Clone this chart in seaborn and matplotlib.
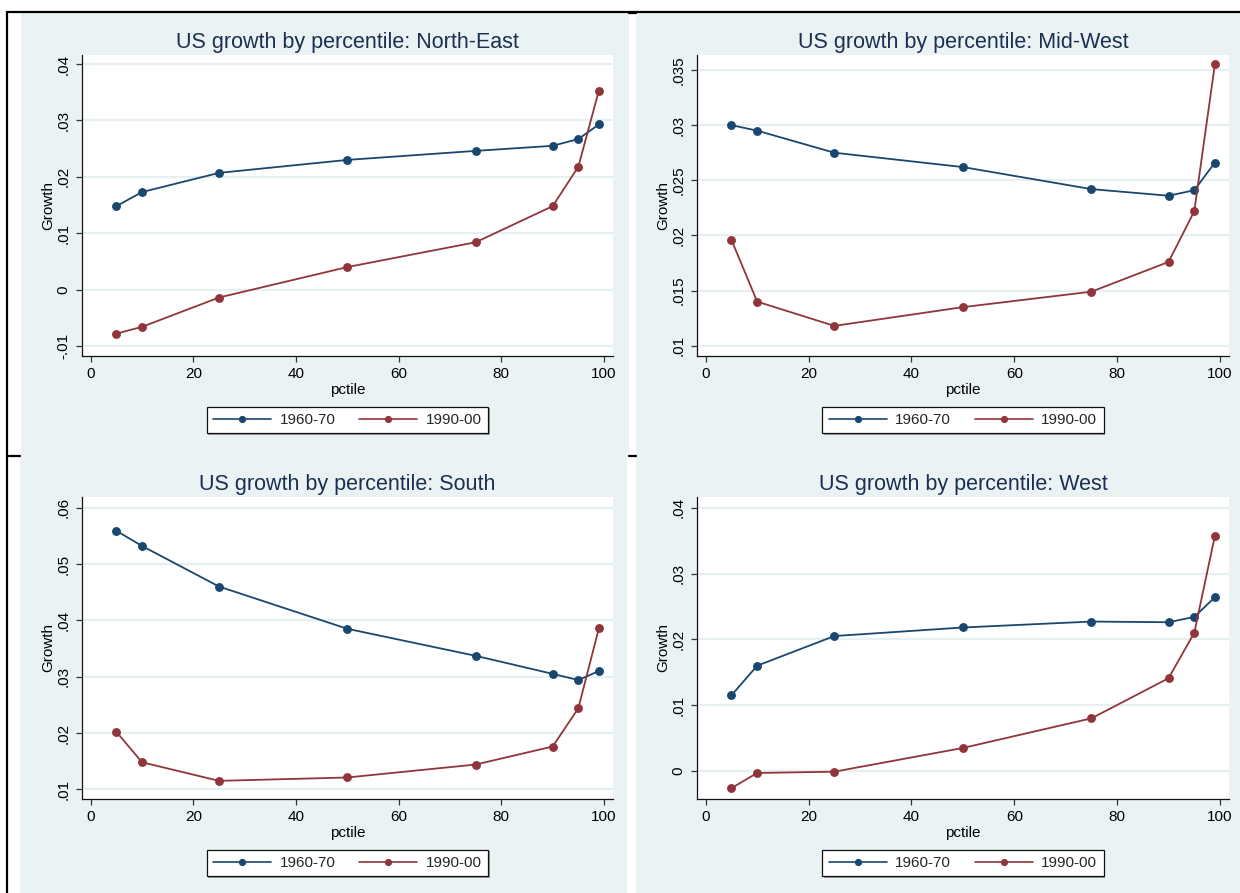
import matplotlib
matplotlib.use("Agg")
import matplotlib.pyplot as plt
import matplotlib.patheffects as pe
import numpy as np
import pandas as pd
import seaborn as sns
from matplotlib.lines import Line2D
from matplotlib.patches import Rectangle
from matplotlib.ticker import FuncFormatter

# ---- data -------------------------------------------------------------
pctiles = [5, 10, 25, 50, 75, 90, 95, 99]
periods = ["1960-70", "1990-00"]
regions = ["North-East", "Mid-West", "South", "West"]

ne_1960 = [0.0148, 0.0173, 0.0207, 0.0230, 0.0246, 0.0255, 0.0267, 0.0293]
ne_1990 = [-0.0078, -0.0066, -0.0014, 0.0040, 0.0084, 0.0148, 0.0218, 0.0353]
mw_1960 = [0.0300, 0.0295, 0.0275, 0.0262, 0.0242, 0.0236, 0.0241, 0.0266]
mw_1990 = [0.0196, 0.0140, 0.0118, 0.0135, 0.0149, 0.0176, 0.0222, 0.0355]
s_1960 = [0.0559, 0.0532, 0.0460, 0.0385, 0.0337, 0.0305, 0.0294, 0.0310]
s_1990 = [0.0202, 0.0148, 0.0115, 0.0121, 0.0144, 0.0176, 0.0244, 0.0386]
w_1960 = [0.0115, 0.0160, 0.0205, 0.0218, 0.0227, 0.0226, 0.0234, 0.0264]
w_1990 = [-0.0026, -0.0003, -0.0001, 0.0035, 0.0080, 0.0141, 0.0210, 0.0357]

series = {
    "North-East": (ne_1960, ne_1990),
    "Mid-West": (mw_1960, mw_1990),
    "South": (s_1960, s_1990),
    "West": (w_1960, w_1990),
}

x_ticks = [0, 20, 40, 60, 80, 100]
y_ticks = {
    "North-East": [-0.01, 0.0, 0.01, 0.02, 0.03, 0.04],
    "Mid-West": [0.01, 0.015, 0.02, 0.025, 0.03, 0.035],
    "South": [0.01, 0.02, 0.03, 0.04, 0.05, 0.06],
    "West": [0.0, 0.01, 0.02, 0.03, 0.04],
}

# ---- style ------------------------------------------------------------
sns.set_theme(style="white")
plt.rcParams["font.family"] = ["Liberation Sans", "DejaVu Sans"]

W, H = 1240, 893
BG = "#EAF2F3"
GRID = "#E6EFF1"
NAVY = "#1A476F"
MAROON = "#90353B"
TITLE_C = "#1C2F52"

ylims = {
    "North-East": (-0.01177, 0.0416),
    "Mid-West": (0.00907, 0.03636),
    "South": (0.00828, 0.0619),
    "West": (-0.00425, 0.04162),
}

# pixel boxes: (left, right, top, bottom)
axes_px = {
    "North-East": (82, 613, 55, 356),
    "Mid-West": (697, 1229, 55, 356),
    "South": (82, 613, 497, 799),
    "West": (697, 1229, 497, 799),
}
bg_px = [(21, 629, 12, 456), (636, 1240, 12, 456),
         (20, 627, 456, 893), (636, 1240, 456, 893)]


def fig_box(l, r, t, b):
    return [l / W, 1 - b / H, (r - l) / W, (b - t) / H]


def stata_fmt(v, pos=None):
    v = round(v, 4)
    if v == 0:
        return "0"
    s = f"{v:g}"
    return s.replace("0.", ".", 1)


fig = plt.figure(figsize=(W / 100, H / 100), dpi=100, facecolor="white")

for (l, r, t, b) in bg_px:
    fig.patches.append(Rectangle((l / W, 1 - b / H), (r - l) / W, (b - t) / H,
                                 transform=fig.transFigure, facecolor=BG,
                                 edgecolor="none", zorder=-5))

for region in regions:
    a, b = series[region]
    df = pd.DataFrame({
        "pctile": pctiles * 2,
        "growth": a + b,
        "period": [periods[0]] * len(pctiles) + [periods[1]] * len(pctiles),
    })
    l, r, t, bt = axes_px[region]
    ax = fig.add_axes(fig_box(l, r, t, bt))
    ax.set_facecolor("white")
    sns.lineplot(data=df, x="pctile", y="growth", hue="period",
                 palette=[NAVY, MAROON], marker="o", markersize=6.4,
                 markeredgewidth=0, linewidth=1.3, legend=False,
                 errorbar=None, ax=ax)

    ax.set_xlim(-1.7, 101.75)
    ax.set_ylim(*ylims[region])
    ax.set_xticks(x_ticks)
    ax.set_yticks(y_ticks[region])
    ax.yaxis.set_major_formatter(FuncFormatter(stata_fmt))
    for lab in ax.get_yticklabels():
        lab.set_rotation(90)
        lab.set_va("center")

    ax.yaxis.grid(True, color=GRID, linewidth=1.6)
    ax.xaxis.grid(False)
    ax.set_axisbelow(True)

    for side in ("top", "right"):
        ax.spines[side].set_visible(False)
    for side in ("left", "bottom"):
        ax.spines[side].set_color("#111111")
        ax.spines[side].set_linewidth(0.9)

    ax.tick_params(axis="both", direction="out", length=4, width=0.9,
                   color="#333333", labelsize=11, labelcolor="black")
    ax.tick_params(axis="x", pad=4)
    ax.tick_params(axis="y", pad=4.5)
    ax.tick_params(left=True, bottom=True)

    ax.set_xlabel("pctile", fontsize=11, color="black", labelpad=1.5)
    ax.set_ylabel("Growth", fontsize=11, color="black", labelpad=1)
    ax.set_title(f"US growth by percentile: {region}", fontsize=15.5,
                 color=TITLE_C, pad=4.8)

    handles = [Line2D([], [], color=c, marker="o", markersize=5.2,
                      markeredgewidth=0, linewidth=1.2)
               for c in (NAVY, MAROON)]
    cx = (l + r) / 2
    cy = bt + 64
    leg = fig.legend(handles, periods, loc="center",
                     bbox_to_anchor=(cx / W, 1 - cy / H), ncol=2,
                     frameon=True, fancybox=False, framealpha=1,
                     edgecolor="#111111", facecolor="white", fontsize=11,
                     handlelength=3.8, handletextpad=0.55,
                     columnspacing=1.55, borderpad=0.42)
    frame = leg.get_frame()
    frame.set_linewidth(0.9)
    frame.set_path_effects([
        pe.SimplePatchShadow(offset=(1.0, -1.0), shadow_rgbFace="#9a9a9a",
                             alpha=1.0),
        pe.Normal(),
    ])

# thin document frame lines around the figure block
frame_kw = dict(transform=fig.transFigure, color="black", linewidth=1.6)
fig.add_artist(Line2D([7 / W, 1.0], [1 - 11.5 / H] * 2, **frame_kw))
fig.add_artist(Line2D([7 / W] * 2, [1 - 11.5 / H, 0.0], **frame_kw))
fig.add_artist(Line2D([7 / W, 20 / W], [1 - 455.5 / H] * 2, **frame_kw))
fig.add_artist(Line2D([629 / W, 636 / W], [1 - 455.5 / H] * 2, **frame_kw))
fig.add_artist(Line2D([629 / W, 636 / W], [1 - 12.5 / H] * 2, **frame_kw))

fig.savefig("out.png", dpi=100, facecolor="white")
